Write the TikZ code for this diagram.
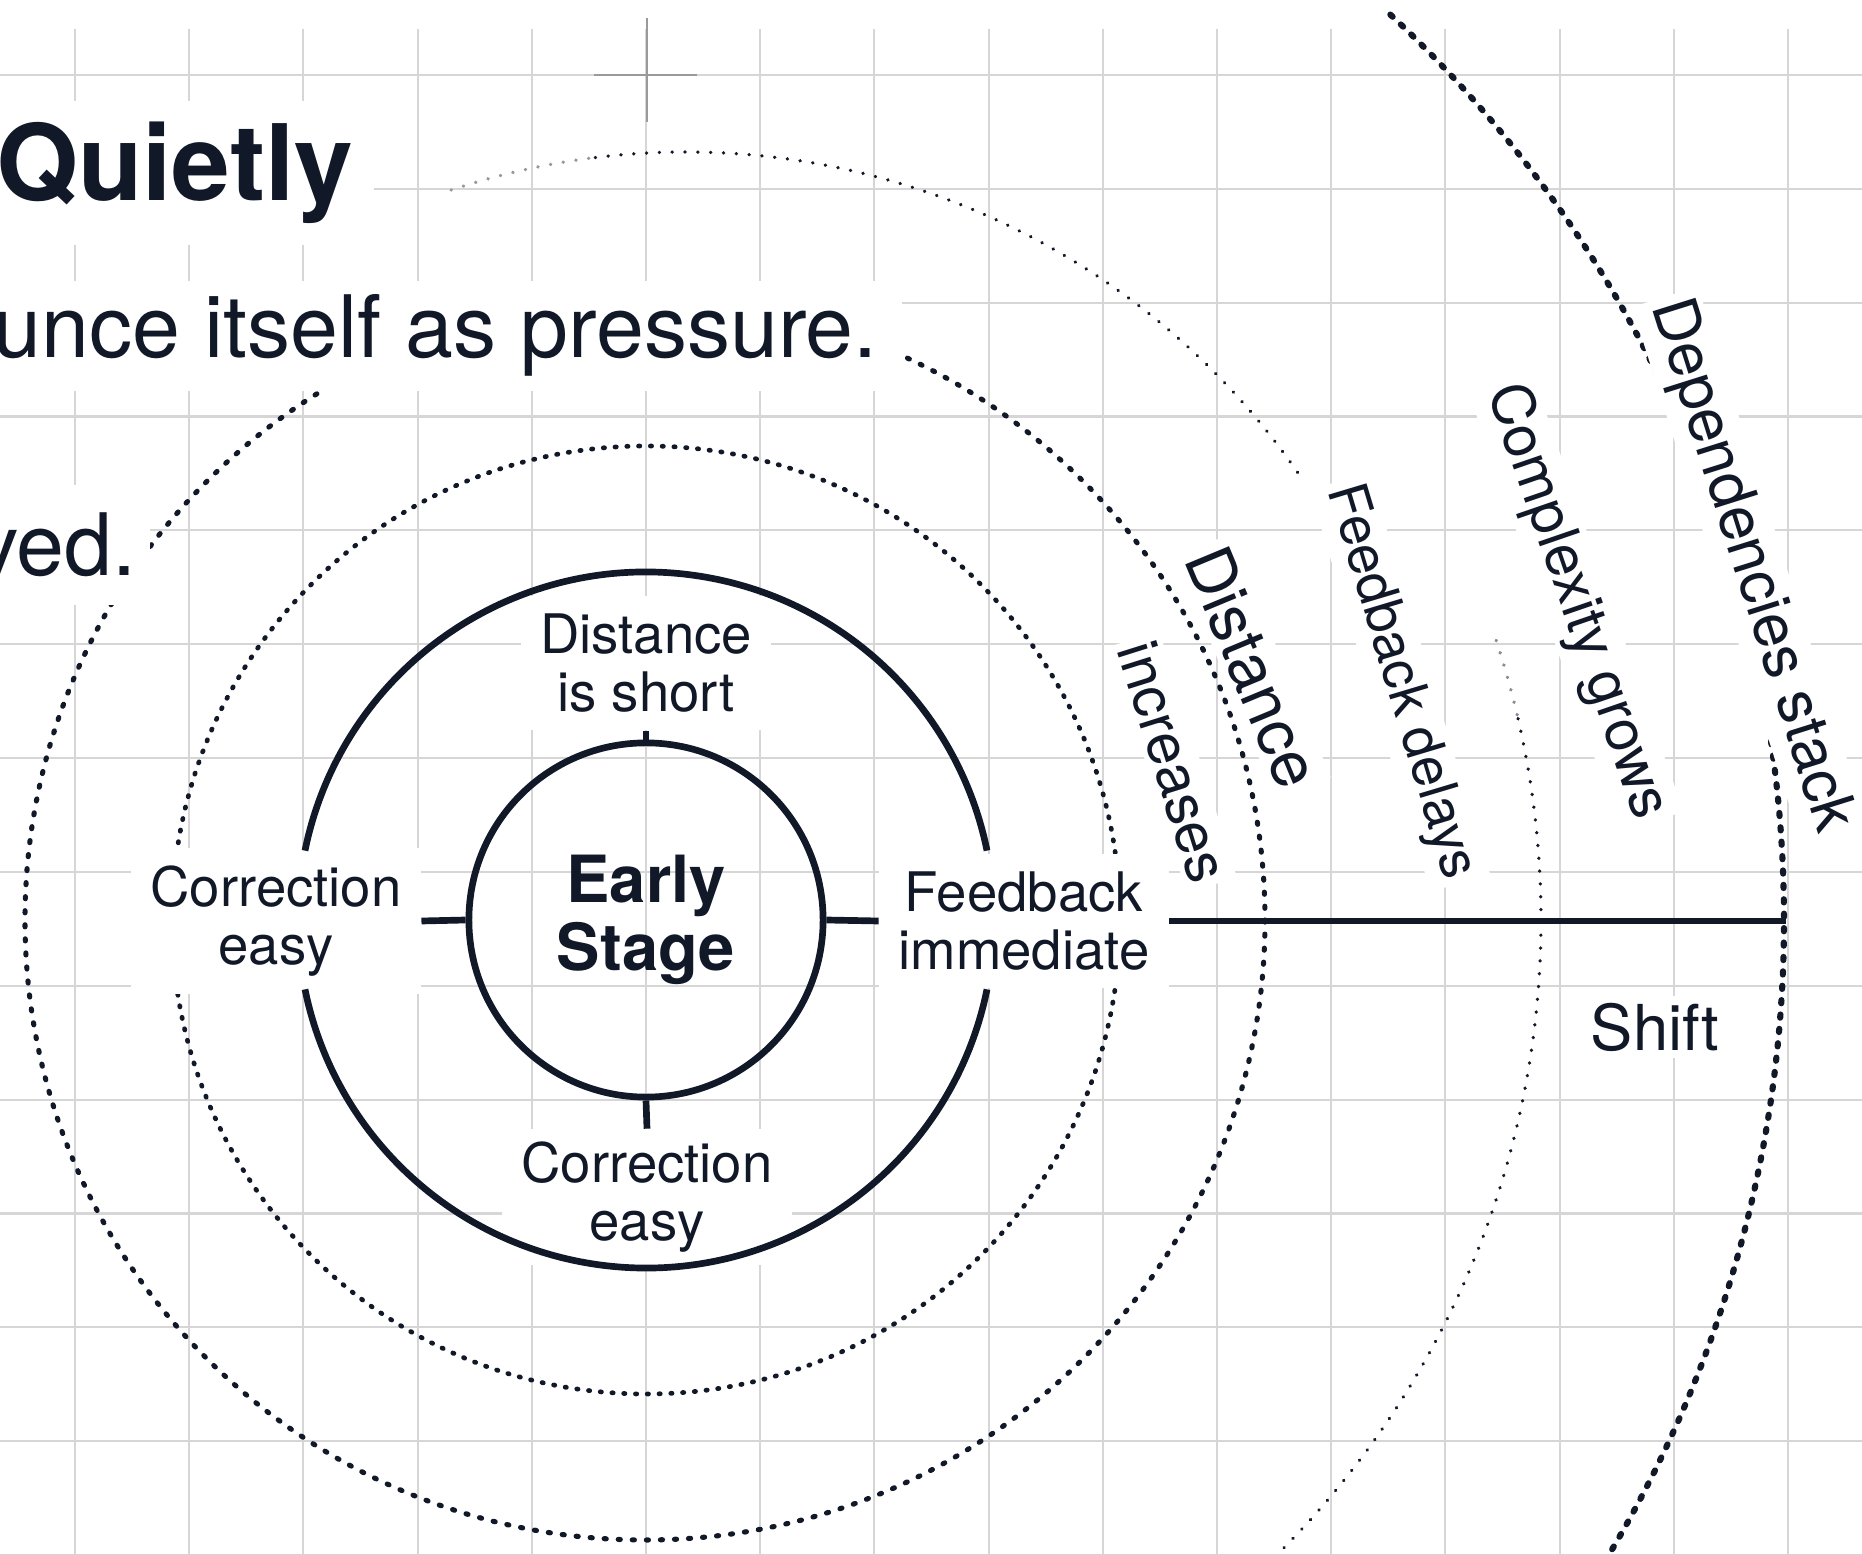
\documentclass[tikz,border=0pt]{standalone}
\usepackage{fontspec}
\setmainfont{TeX Gyre Heros}
\definecolor{ink}{HTML}{111827}
\definecolor{gridc}{HTML}{D6D6D6}
\definecolor{crossc}{HTML}{9A9A9A}
\begin{document}
\begin{tikzpicture}[x=0.01cm,y=-0.01cm,
  gridline/.style={draw=gridc,line width=0.6pt},
  solidring/.style={draw=ink,line width=1.9pt},
  dotA/.style={draw=ink,line width=1.35pt,line cap=round,dash pattern=on 0.35pt off 3.0pt},
  dotB/.style={draw=ink,line width=1.45pt,line cap=round,dash pattern=on 0.6pt off 3.4pt},
  dotThin/.style={draw=ink,line width=1.0pt,line cap=round,dash pattern=on 0.05pt off 3.6pt},
  dotHeavy/.style={draw=ink,line width=1.75pt,line cap=round,dash pattern=on 0.9pt off 3.2pt},
  lab/.style={fill=white,text=ink,align=center,font=\fontsize{15.5}{16.5}\selectfont,inner xsep=5.5pt,inner ysep=5pt},
  arclab/.style={fill=white,text=ink,inner sep=1.5pt},
  head/.style={fill=white,text=ink,anchor=base west,outer sep=0pt}]
\useasboundingbox (0,0) rectangle (1862,1555);
\fill[white] (0,0) rectangle (1862,1555);
\begin{scope}
\clip (0,0) rectangle (1862,1555);
% grid
\foreach \i in {0,...,15} \draw[gridline] ({75+114.2*\i},29) -- ({75+114.2*\i},1560);
\foreach \j in {0,...,13} \draw[gridline] (0,{75+113.85*\j}) -- (1862,{75+113.85*\j});
% crosshair
\draw[draw=crossc,line width=0.6pt] (594,75) -- (697,75) (647,18) -- (647,122);
% dotted rings
\coordinate (c) at (646,920);
\draw[dotA] (c) circle[radius=474];
\draw[dotB] (645,920) circle[radius=620];
\draw[dotThin,draw=ink!45] (686,896) ++(-108.4:744) arc[start angle=-108.4,end angle=-97,radius=744];
\draw[dotThin] (686,896) ++(-97:744) arc[start angle=-97,end angle=-34.5,radius=744];
\draw[dotThin,draw=ink!50] (c) ++(-18.2:895) arc[start angle=-18.2,end angle=-13,radius=895];
\draw[dotThin] (c) ++(-13:895) arc[start angle=-13,end angle=47,radius=895];
\draw[dotHeavy] (546,920) ++(-47:1238) arc[start angle=-47,end angle=33,radius=1238];
% heading texts
\node[head,font=\bfseries\fontsize{30}{36}\selectfont,inner xsep=6pt,inner ysep=6pt] (title) at (-25,201) {Quietly};
\node[head,font=\fontsize{24.5}{29}\selectfont,inner xsep=7pt,inner ysep=4pt] (line1) at (-31,358) {unce itself as pressure.};
\node[head,font=\fontsize{24.5}{29}\selectfont,inner xsep=4pt,inner ysep=8pt] (line2) at (-39,576) {ved.};
% labels
\node[lab] (top) at (646,663) {Distance\\is short};
\node[lab] (left) at (276,921) {Correction\\easy};
\node[lab] (right) at (1024,921) {Feedback\\immediate};
\node[lab,inner ysep=3.5pt] (bot) at (647,1197) {Correction\\easy};
% solid ring 2 with gaps at the side labels
\draw[solidring] (c) ++(11.5:348) arc[start angle=11.5,end angle=168.5,radius=348];
\draw[solidring] (c) ++(191.5:348) arc[start angle=191.5,end angle=348.5,radius=348];
% core
\node[circle,draw=ink,line width=1.9pt,minimum size=3.54cm,align=center,text=ink,
      font=\bfseries\fontsize{18.5}{19.5}\selectfont] (core) at (646,920) {Early\\Stage};
\draw[solidring] (core.north) -- (top.south);
\draw[solidring] (core.south) -- (bot.north);
\draw[solidring] (core.west) -- (left.east);
\draw[solidring] (core.east) -- (right.west);
\coordinate (send) at (1786,921);
\draw[solidring] (right.east) -- (send);
% arc labels
\node[arclab,rotate=-67.4,font=\fontsize{18.5}{20}\selectfont] (dist) at (1253,667) {Distance};
\node[arclab,rotate=-72.5,font=\fontsize{16.5}{18}\selectfont] (incr) at (1173,762) {increases};
\node[arclab,rotate=-73.3,font=\fontsize{15.5}{17}\selectfont] (fbd) at (1400,682) {Feedback delays};
\node[arclab,rotate=-71,font=\fontsize{16.5}{18}\selectfont] (cg) at (1576,602) {Complexity grows};
\node[arclab,rotate=-72.5,font=\fontsize{17.5}{20}\selectfont] (ds) at (1750,566) {Dependencies stack};
\node[fill=white,text=ink,font=\fontsize{18}{20}\selectfont,inner sep=2pt] (shift) at (1655,1027) {Shift};
\end{scope}
\end{tikzpicture}
\end{document}
